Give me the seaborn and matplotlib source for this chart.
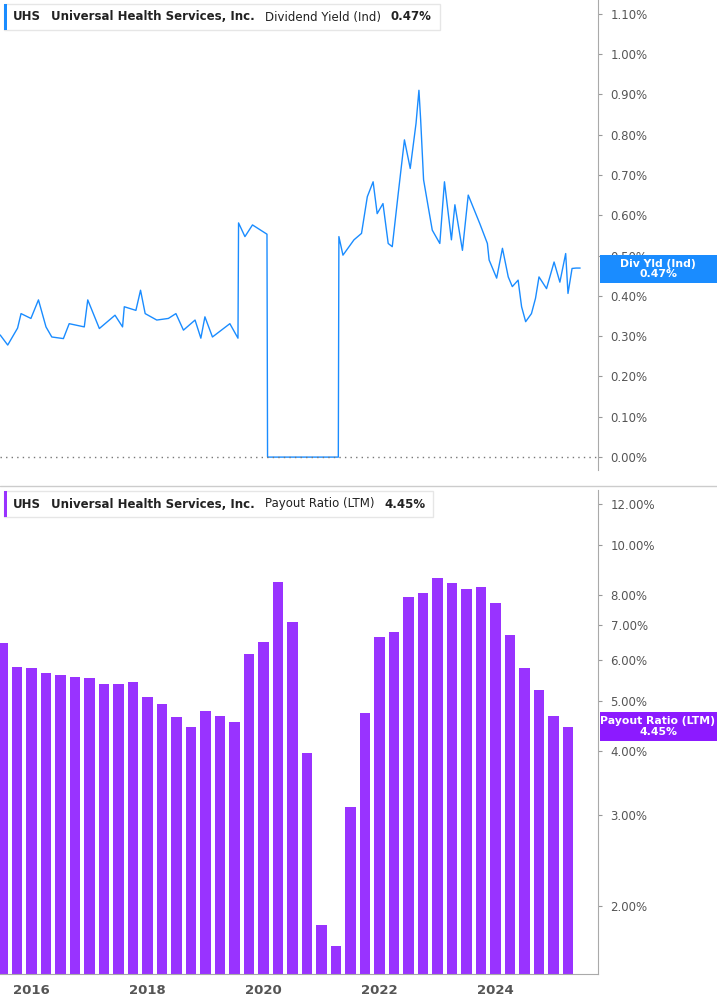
import numpy as np
import pandas as pd
import matplotlib
matplotlib.use("Agg")
import matplotlib.pyplot as plt
import seaborn as sns
from matplotlib.ticker import FixedLocator, NullLocator
from matplotlib.lines import Line2D
from matplotlib.patches import Rectangle

plt.rcParams['font.family'] = ['Roboto', 'DejaVu Sans']
sns.set_style("white")

# dividend yield (%): (decimal year, value)
yield_dates = [2015.46, 2015.59, 2015.76, 2015.82, 2015.99, 2016.12, 2016.25, 2016.35, 2016.55,
               2016.65, 2016.91, 2016.97, 2017.17, 2017.44, 2017.57, 2017.60, 2017.80, 2017.88,
               2017.96, 2018.16, 2018.36, 2018.49, 2018.62, 2018.82, 2018.92, 2018.99, 2019.12,
               2019.42, 2019.56, 2019.57, 2019.68, 2019.81, 2020.06, 2020.07, 2021.29, 2021.30,
               2021.37, 2021.56, 2021.69, 2021.79, 2021.89, 2021.96, 2022.06, 2022.15, 2022.22,
               2022.32, 2022.43, 2022.53, 2022.63, 2022.68, 2022.71, 2022.76, 2022.84, 2022.91,
               2023.04, 2023.12, 2023.24, 2023.30, 2023.43, 2023.53, 2023.73, 2023.86, 2023.89,
               2024.02, 2024.12, 2024.22, 2024.29, 2024.39, 2024.45, 2024.52, 2024.62, 2024.69,
               2024.75, 2024.88, 2025.01, 2025.11, 2025.21, 2025.25, 2025.32, 2025.39, 2025.46]
yield_vals = [0.303, 0.278, 0.320, 0.356, 0.344, 0.390, 0.323, 0.298, 0.294, 0.331,
              0.323, 0.390, 0.319, 0.352, 0.323, 0.373, 0.364, 0.414, 0.356, 0.340,
              0.344, 0.356, 0.315, 0.340, 0.295, 0.348, 0.298, 0.331, 0.295, 0.581,
              0.547, 0.576, 0.553, 0.0, 0.0, 0.547, 0.501, 0.539, 0.555, 0.646,
              0.683, 0.604, 0.629, 0.530, 0.522, 0.650, 0.787, 0.716, 0.828, 0.91,
              0.836, 0.688, 0.621, 0.563, 0.530, 0.683, 0.539, 0.626, 0.513, 0.650,
              0.579, 0.530, 0.489, 0.444, 0.518, 0.447, 0.423, 0.439, 0.373, 0.336,
              0.356, 0.394, 0.447, 0.418, 0.484, 0.434, 0.505, 0.406, 0.468, 0.469, 0.469]

# payout ratio (LTM, %) quarterly bars
payout_dates = [2015.50 + 0.25 * i for i in range(40)]
payout_vals = [6.47, 5.82, 5.80, 5.65, 5.60, 5.55, 5.53, 5.40, 5.39, 5.44,
               5.08, 4.93, 4.66, 4.46, 4.79, 4.68, 4.55, 6.16, 6.51, 8.48,
               7.10, 3.96, 1.84, 1.68, 3.12, 4.74, 6.65, 6.81, 7.95, 8.09,
               8.65, 8.44, 8.25, 8.32, 7.73, 6.72, 5.80, 5.25, 4.67, 4.45]

yield_ticks = [0.0, 0.1, 0.2, 0.3, 0.4, 0.5, 0.6, 0.7, 0.8, 0.9, 1.0, 1.1]
payout_ticks = [2, 3, 4, 5, 6, 7, 8, 10, 12]
year_ticks = [2016, 2018, 2020, 2022, 2024]

BLUE = '#1a8cff'
PURPLE = '#9933ff'
GRAY = '#555555'
W, H = 717, 1005
x0, x1 = 2015.457, 2015.457 + 598 / 58

fig = plt.figure(figsize=(W / 100, H / 100), dpi=100)
ax1 = fig.add_axes([0, 1 - 470 / H, 598 / W, 470 / H])
ax2 = fig.add_axes([0, 1 - 974 / H, 598 / W, (974 - 490) / H])

# top panel
df_y = pd.DataFrame({'date': yield_dates, 'yield': yield_vals})
sns.lineplot(data=df_y, x='date', y='yield', ax=ax1, color=BLUE, lw=1.0,
             estimator=None, sort=False)
ax1.axhline(0, color='#777777', ls=(0, (1, 3)), lw=1)
ax1.set_xlim(x0, x1)
ax1.set_ylim(-0.032, 1.134)

# bottom panel
df_p = pd.DataFrame({'date': payout_dates, 'payout': payout_vals})
ax2.set_yscale('log')
sns.barplot(data=df_p, x='date', y='payout', ax=ax2, color=PURPLE, native_scale=True,
            width=0.7, saturation=1, edgecolor='none')
ax2.set_xlim(x0, x1)
ax2.set_ylim(1.48, 12.8)

for ax, ticks in [(ax1, yield_ticks), (ax2, payout_ticks)]:
    ax.set_xlabel('')
    ax.set_ylabel('')
    ax.yaxis.tick_right()
    ax.yaxis.set_major_locator(FixedLocator(ticks))
    ax.yaxis.set_minor_locator(NullLocator())
    ax.set_yticklabels(['{:.2f}%'.format(t) for t in ticks])
    ax.tick_params(axis='y', length=3, color='#999999', labelcolor=GRAY, labelsize=8.5, pad=6)
    for s in ['top', 'left', 'bottom']:
        ax.spines[s].set_visible(False)
    ax.spines['right'].set_color('#aaaaaa')

ax1.set_xticks([])
ax2.spines['bottom'].set_visible(True)
ax2.spines['bottom'].set_color('#aaaaaa')
ax2.set_xticks(year_ticks)
ax2.set_xticklabels([str(y) for y in year_ticks])
ax2.tick_params(axis='x', length=4, color='#999999', labelcolor=GRAY, labelsize=9.5)
for t in ax2.get_xticklabels():
    t.set_fontweight('bold')

# panel separator
fig.add_artist(Line2D([0, 1], [1 - 486 / H, 1 - 486 / H], color='#cccccc', lw=1))

renderer = fig.canvas.get_renderer()

# header boxes, texts chained left to right
def header(ytop, color, label, value):
    yc = 1 - (ytop + 13) / H
    parts = [('UHS', 'bold', 10), ('Universal Health Services, Inc.', 'bold', 10),
             (label, 'normal', 10), (value, 'bold', 0)]
    x = 13
    for txt, wt, gap in parts:
        t = fig.text(x / W, yc, txt, fontsize=8.5, fontweight=wt, va='center',
                     color='#222222', zorder=11)
        x += t.get_window_extent(renderer).width + gap
    width = x + 8 - 4
    fig.add_artist(Rectangle((4 / W, 1 - (ytop + 26) / H), width / W, 26 / H,
                             facecolor='white', edgecolor='#e6e6e6', lw=1, zorder=10))
    fig.add_artist(Rectangle((4 / W, 1 - (ytop + 26) / H), 3 / W, 26 / H,
                             facecolor=color, edgecolor='none', zorder=10))

header(4, BLUE, 'Dividend Yield (Ind)', '0.47%')
header(491, PURPLE, 'Payout Ratio (LTM)', '4.45%')

# right-side value tags
def tag(ytop, ybot, color, text):
    fig.add_artist(Rectangle((600 / W, 1 - ybot / H), 117 / W, (ybot - ytop) / H,
                             facecolor=color, edgecolor='none', zorder=10))
    fig.text(658 / W, 1 - (ytop + ybot) / 2 / H, text, fontsize=7.8, fontweight='bold',
             color='white', ha='center', va='center', linespacing=1.1, zorder=11)

tag(255, 283, BLUE, 'Div Yld (Ind)\n0.47%')
tag(712, 741, '#8c1aff', 'Payout Ratio (LTM)\n4.45%')

fig.savefig('out.png', dpi=100)
